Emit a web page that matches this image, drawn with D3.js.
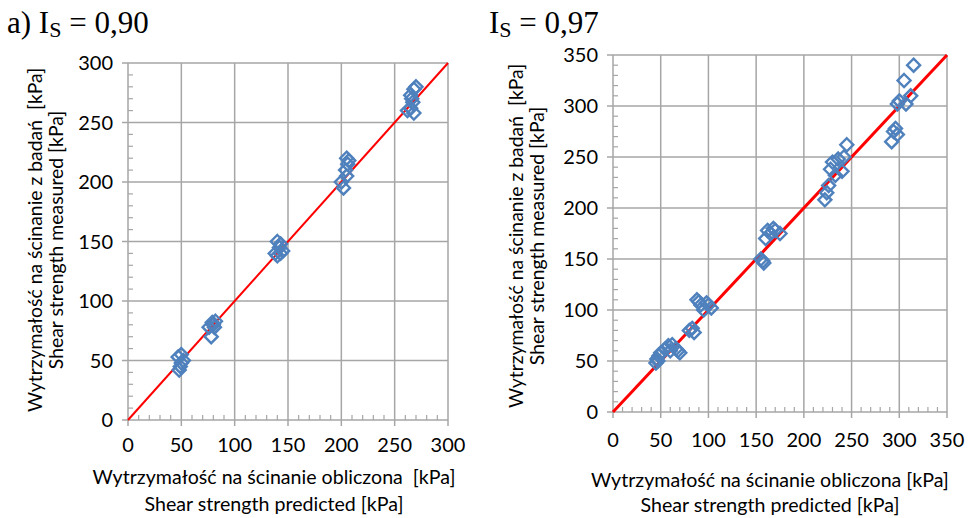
<!DOCTYPE html>
<html><head><meta charset="utf-8">
<script src="https://cdn.jsdelivr.net/npm/d3@7"></script>
<style>body{margin:0;background:#fff}svg{display:block}text{white-space:pre}</style>
</head><body>
<svg id="c" width="970" height="518"></svg>
<script>
// Panel a) I_S = 0,90 : predicted vs measured shear strength [kPa]
const predA = [48,50,52,50,47,49, 78,76,80,82,79,81, 138,140,142,143,145,140,143, 200,202,205,206,205,207,204, 262,265,268,267,265,268,270,266];
const measA = [42,48,50,55,53,45, 70,78,80,83,82,78, 140,150,145,148,142,138,140, 200,195,205,215,220,218,210, 260,262,258,267,273,278,280,270];
// Panel I_S = 0,97
const predB = [45,46,48,50,47, 55,58,60,62,68,70,66, 80,83,85, 88,90,92,95,100,103,98, 155,157,158, 160,162,165,168,170,175, 222,224,226,228,230,233,236,240,242,245, 292,294,296,298,298,300,305,307,312,315];
const measB = [48,52,55,58,50, 62,65,60,66,60,58,62, 80,82,78, 110,108,105,100,105,102,107, 150,148,146, 170,178,175,180,178,175, 208,215,222,238,245,232,248,236,250,262, 265,275,278,272,302,305,325,302,310,340];
const ticksA = [0,50,100,150,200,250,300];
const ticksB = [0,50,100,150,200,250,300,350];

const svg = d3.select("#c");
const sans = "Lato, 'Open Sans', sans-serif";
const gridCol = "#a6a6a6";

function panel(cfg) {
  const x = d3.scaleLinear().domain([0, cfg.max]).range([cfg.x0, cfg.x1]);
  const y = d3.scaleLinear().domain([0, cfg.max]).range([cfg.y0, cfg.y1]);
  const g = svg.append("g");
  // gridlines (extend past the axes as major tick marks)
  g.selectAll(".gx").data(cfg.ticks).join("line")
    .attr("x1", d => x(d)).attr("x2", d => x(d))
    .attr("y1", y(cfg.max)).attr("y2", y(0) + 6)
    .attr("stroke", gridCol).attr("stroke-width", 1.5);
  g.selectAll(".gy").data(cfg.ticks).join("line")
    .attr("y1", d => y(d)).attr("y2", d => y(d))
    .attr("x1", x(0) - 6).attr("x2", x(cfg.max))
    .attr("stroke", gridCol).attr("stroke-width", 1.5);
  // minor ticks every 10 kPa, inside the plot
  const minor = d3.range(0, cfg.max + 1, 10).filter(v => v % 50 !== 0);
  g.selectAll(".mx").data(minor).join("line")
    .attr("x1", d => x(d)).attr("x2", d => x(d))
    .attr("y1", y(0)).attr("y2", y(0) - 5)
    .attr("stroke", gridCol).attr("stroke-width", 1.2);
  g.selectAll(".my").data(minor).join("line")
    .attr("y1", d => y(d)).attr("y2", d => y(d))
    .attr("x1", x(0)).attr("x2", x(0) + 5)
    .attr("stroke", gridCol).attr("stroke-width", 1.2);
  // tick labels
  g.selectAll(".lx").data(cfg.ticks).join("text")
    .attr("x", d => x(d)).attr("y", y(0) + cfg.xlOff)
    .attr("text-anchor", "middle").attr("font-family", sans).attr("font-size", 20)
    .attr("fill", "#000").text(d => d);
  g.selectAll(".ly").data(cfg.ticks).join("text")
    .attr("x", x(0) - 15).attr("y", d => y(d) + 7)
    .attr("text-anchor", "end").attr("font-family", sans).attr("font-size", 20)
    .attr("fill", "#000").text(d => d);
  // 1:1 line
  g.append("line")
    .attr("x1", x(0)).attr("y1", y(0)).attr("x2", x(cfg.max)).attr("y2", y(cfg.max))
    .attr("stroke", "#ff0000").attr("stroke-width", cfg.lineW);
  // data markers (hollow diamonds)
  const s = 6.5;
  const pts = cfg.pred.map((p, i) => [p, cfg.meas[i]]);
  g.selectAll(".pt").data(pts).join("path")
    .attr("d", d => {
      const cx = x(d[0]), cy = y(d[1]);
      return `M${cx},${cy - s}L${cx + s},${cy}L${cx},${cy + s}L${cx - s},${cy}Z`;
    })
    .attr("fill", "none").attr("stroke", "#4f81bd").attr("stroke-width", 2.4)
    .attr("stroke-linejoin", "miter");
  // axis titles
  const xt = g.append("text").attr("text-anchor", "middle").attr("font-family", sans)
    .attr("font-size", 19.6).attr("fill", "#000");
  xt.append("tspan").attr("x", cfg.xtX).attr("y", cfg.xtY).text(cfg.xt1);
  xt.append("tspan").attr("x", cfg.xtX).attr("y", cfg.xtY + cfg.xtGap).text("Shear strength predicted [kPa]");
  const yt = g.append("text").attr("text-anchor", "middle").attr("font-family", sans)
    .attr("font-size", 19.4).attr("fill", "#000")
    .attr("transform", `translate(${cfg.ytX},${cfg.ytY}) rotate(-90)`);
  yt.append("tspan").attr("x", 0).attr("y", 0).text("Wytrzymałość na ścinanie z badań  [kPa]");
  yt.append("tspan").attr("x", 0).attr("y", 21).text("Shear strength measured [kPa]");
  // panel title
  const t = svg.append("text").attr("x", cfg.tX).attr("y", 33)
    .attr("font-family", "'Liberation Serif', 'Times New Roman', serif").attr("font-size", 31).attr("fill", "#000");
  t.append("tspan").text(cfg.prefix + "I");
  t.append("tspan").attr("font-size", 22).attr("dy", 4).text("S");
  t.append("tspan").attr("dy", -4).text(" = " + cfg.val);
}

panel({max: 300, ticks: ticksA, pred: predA, meas: measA, x0: 128, x1: 448, y0: 420, y1: 63,
  lineW: 2, xlOff: 32, xtX: 274, xtY: 484, xtGap: 27, xt1: "Wytrzymałość na ścinanie obliczona  [kPa]",
  ytX: 42, ytY: 240, tX: 7, prefix: "a) ", val: "0,90"});
panel({max: 350, ticks: ticksB, pred: predB, meas: measB, x0: 613, x1: 947, y0: 412, y1: 55,
  lineW: 3, xlOff: 35, xtX: 770, xtY: 487, xtGap: 25, xt1: "Wytrzymałość na ścinanie obliczona [kPa]",
  ytX: 523, ytY: 236, tX: 489, prefix: "", val: "0,97"});
</script>
</body></html>
